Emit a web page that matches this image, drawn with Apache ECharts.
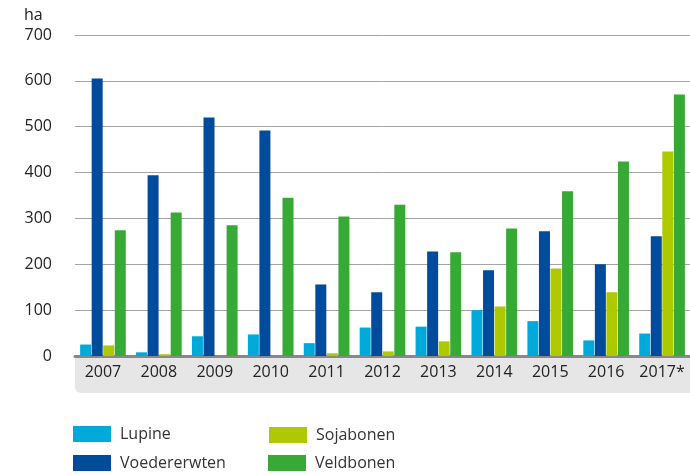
<!DOCTYPE html>
<html>
<head>
<meta charset="utf-8">
<script src="https://cdn.jsdelivr.net/npm/echarts@6/dist/echarts.min.js"></script>
<style>html,body{margin:0;padding:0;background:#fff}#c{width:690px;height:475px}</style>
</head>
<body>
<div id="c"></div>
<script>
var categories = ['2007','2008','2009','2010','2011','2012','2013','2014','2015','2016','2017*'];
var lupine       = [25, 8, 43, 47, 28, 62, 64, 100, 76, 34, 49];
var voedererwten = [605, 394, 520, 492, 156, 139, 228, 187, 272, 200, 261];
var sojabonen    = [23, 4, 0, 0, 6, 10, 32, 108, 191, 139, 446];
var veldbonen    = [274, 313, 285, 345, 304, 330, 226, 278, 359, 424, 570];
var yTicks = [0, 100, 200, 300, 400, 500, 600, 700];
var unitLabel = 'ha';

var font = 'Open Sans';
var chart = echarts.init(document.getElementById('c'), null, {renderer: 'canvas'});
function bar(name, data, color) {
  return {name: name, type: 'bar', data: data, barWidth: 11, barGap: '5%',
          itemStyle: {color: color}, emphasis: {disabled: true}};
}
function leg(name, left, top) {
  return {data: [name], left: left, top: top, itemWidth: 38, itemHeight: 16, icon: 'rect', padding: 0,
          textStyle: {fontSize: 16, lineHeight: 16, color: '#333', fontFamily: font, padding: [4, 0, 0, 4]},
          selectedMode: false};
}
chart.setOption({
  animation: false,
  textStyle: {fontFamily: font},
  graphic: [
    {type: 'rect', z: 0, shape: {x: 75, y: 357, width: 640, height: 36, r: [0, 0, 0, 6]}, style: {fill: '#e6e6e6'}},
    {type: 'text', left: 24, top: 7, style: {text: unitLabel, font: '16px "Open Sans"', fill: '#222'}}
  ],
  grid: {left: 75, top: 35, bottom: 119, width: 627, containLabel: false},
  legend: [
    leg('Lupine', 73, 424),
    leg('Voedererwten', 73, 453),
    leg('Sojabonen', 269, 425),
    leg('Veldbonen', 268, 453)
  ],
  xAxis: {
    type: 'category', data: categories,
    axisLine: {lineStyle: {color: '#888', width: 3}},
    axisTick: {show: false},
    axisLabel: {interval: 0, color: '#222', fontSize: 16, margin: 8, fontFamily: font}
  },
  yAxis: {
    type: 'value', min: 0, max: 700, interval: 100,
    axisLine: {show: false}, axisTick: {show: false},
    axisLabel: {color: '#222', fontSize: 16, margin: 23, fontFamily: font,
      formatter: function (v) { return yTicks.indexOf(v) >= 0 ? String(v) : ''; }},
    splitLine: {lineStyle: {color: '#a4a4a4', width: 1}}
  },
  series: [
    bar('Lupine', lupine, '#00a9d9'),
    bar('Voedererwten', voedererwten, '#004b9b'),
    bar('Sojabonen', sojabonen, '#afc900'),
    bar('Veldbonen', veldbonen, '#37a935')
  ]
});
</script>
</body>
</html>
